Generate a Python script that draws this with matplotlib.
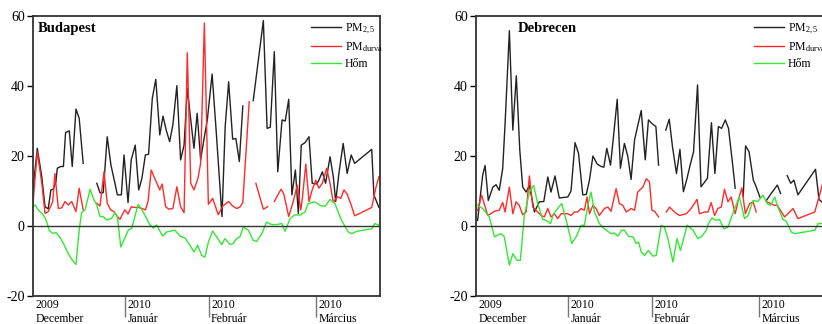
import numpy as np
import matplotlib
matplotlib.use('Agg')
import matplotlib.pyplot as plt
import matplotlib.transforms as mtransforms

plt.rcParams['font.family'] = 'Liberation Serif'
plt.rcParams['mathtext.fontset'] = 'custom'
plt.rcParams['mathtext.rm'] = 'Liberation Serif'
plt.rcParams['mathtext.it'] = 'Liberation Serif:italic'
plt.rcParams['axes.unicode_minus'] = False

# time axis in days from the start of December 2009
month_pos = [0, 34.5, 65.8, 106.2]
month_labels = ['2009\nDecember', '2010\nJanuár', '2010\nFebruár', '2010\nMárcius']
series_labels = [r'PM$_{\mathrm{2,5}}$', r'PM$_{\mathrm{durva}}$', 'Hőm']

# (day, value) pairs, None = missing data
bp_pm25 = [(0, 10.3), (1.6, 22.2), (3.3, 14), (4.5, 5.5), (5.7, 4.9), (6.7, 10.3), (7.6, 10.5),
           (8.6, 12.7), (9.1, 16.5), (10.4, 17), (11.4, 17), (12.2, 26.7), (13.6, 27.2), (14.7, 17),
           (16.1, 33.4), (17.3, 30.8), (18.8, 17.9), None,
           (23.9, 12.2), (25.1, 9.5), (26.3, 9.5), (27.8, 25.5), (29.2, 17.4), (30.7, 12.2),
           (31.6, 8.9), (33.1, 8.9), (34.1, 20.3), (35.6, 6.7), (36.8, 18.9), (38.3, 23.1),
           (39.6, 10.3), (40.8, 13.6), (42.1, 20.3), (43.3, 20.5), (44.7, 36.5), (46.0, 41.9),
           (47.5, 26), (48.7, 31.4), (49.9, 27.4), (51.2, 24.1), (52.4, 28.9), (53.9, 40.1),
           (55.3, 18.9), (56.6, 23.1), (57.8, 39.3), (59.1, 30.3), (60.3, 22.2), (61.5, 32.2),
           (62.8, 18.9), (64.1, 25), (65.3, 30.3), (67.1, 43.4), (68.6, 27.4), (70.8, 2.7),
           (72.0, 28.4), (73.3, 41.2), (74.8, 24.8), (76.0, 25), (77.3, 18.4), (78.6, 34.3), None,
           (82.5, 35.8), (86.3, 58.7), (87.7, 27.9), (88.9, 28.2), (90.4, 49.8), (91.7, 15.5),
           (93.3, 30.3), (94.5, 30), (95.8, 36.2), (97.0, 8.9), (98.3, 16), (99.4, 3.6),
           (100.5, 23.1), (101.9, 23.8), (103.4, 25.5), (104.6, 12.2), (106.3, 12), (107.1, 13.1),
           (108.4, 15.5), (109.6, 12.2), (111.3, 19.8), (112.5, 14.1), (113.4, 7), (114.6, 15),
           (116.2, 23.6), (117.7, 15), (119.2, 20.3), (120.5, 17.9), (126.9, 21.9), (127.7, 8.9),
           (129.6, 5.3)]

bp_pmc = [(0, 6.5), (1.6, 21.2), (3.3, 12.2), (4.5, 3.6), (5.7, 4.1), (7.4, 7), (8.2, 15),
          (9.5, 5), (10.8, 5.2), (12.0, 7), (13.2, 6), (14.5, 7), (16.1, 4.1), (17.3, 10.8),
          (18.8, 4.6), None,
          (23.9, 6.5), (25.1, 5.7), (26.6, 15.5), (27.8, 6.5), (29.1, 4.6), (30.3, 4.1),
          (31.6, 2.7), (32.6, 1.9), (33.1, 2.7), (34.4, 4.6), (35.6, 3.4), (36.8, 5.5),
          (38.1, 5.3), (39.6, 5.3), (40.8, 5), (42.1, 4.6), (43.1, 7), (44.3, 16), (45.6, 13.6),
          (47.5, 10.3), (48.4, 12), (49.7, 5.5), (50.9, 4.8), (52.4, 5), (53.9, 11.2), (55.3, 5.5),
          (56.6, 3.8), (57.8, 49.5), (59.1, 12.2), (60.3, 10.3), (61.8, 13.6), (62.8, 17.9),
          (64.2, 58), (65.7, 6.2), (67.3, 7.9), (69.4, 3.2), (71.1, 5.7), (73.3, 7), (74.8, 5.7),
          (76.3, 5), (77.5, 5.4), (78.6, 6.7), (81.0, 35.5), None,
          (83.5, 12.2), (86.3, 4.8), (87.9, 5.5), None,
          (90.4, 7), (92.9, 10.5), (93.9, 9.3), (95.8, 2.7), (97.3, 6.5), (97.8, 7.9), (99.0, 11.7),
          (100.3, 4.6), (100.9, 7.8), (102.2, 17.7), (103.4, 7), (104.6, 10.3), (105.9, 13.1),
          (107.1, 10.8), (108.4, 12.2), (110.0, 16.5), (111.3, 12.2), (112.5, 6.7), (114.0, 8.4),
          (115.3, 7.9), (116.5, 10.3), (117.7, 9.1), (119.2, 6), (120.5, 2.9), (126.9, 5.3),
          (128.4, 10.8), (129.6, 14.1)]

bp_hom = [(0, 5.5), (0.8, 6), (2.0, 4.6), (3.9, 3.1), (4.9, 1.7), (6.1, -1.3), (7.4, -2.1),
          (8.6, -1.9), (9.9, -3), (11.4, -5), (12.8, -7.3), (14.5, -9.5), (16.1, -11),
          (17.3, -1.1), (18.2, 3.8), (19.5, 4.6), (21.4, 10.5), (22.9, 7.4), (23.9, 6),
          (25.1, 2.7), (26.3, 2.7), (27.6, 1.7), (29.5, 2.2), (30.7, 3.8), (31.6, 2.7),
          (32.9, -6), (35.7, -1.2), (37.0, -0.6), (39.4, 6.2), (41.3, 4), (43.8, 0.3),
          (45.1, -0.6), (46.3, 0.3), (48.6, -2.9), (50.1, -1.7), (53.2, -1.2), (55.1, -2.9),
          (56.9, -3.4), (58.8, -5.5), (60.3, -7.4), (61.7, -5.5), (63.2, -8.4), (64.4, -8.9),
          (65.7, -4.6), (67.3, -1.4), (68.8, -3.1), (70.7, -5.3), (71.9, -3.6), (73.8, -5.3),
          (75.0, -5), (76.3, -3.6), (77.5, -3.1), (78.8, -0.3), (80.7, -1.2), (82.5, -4.1),
          (83.8, -4.4), (85.7, -2.2), (87.5, 1.1), (89.4, 0.4), (91.3, 0.4), (93.2, 0.7),
          (94.4, -1.5), (96.3, 2.1), (98.1, 3.2), (100.0, 3.1), (101.9, 4), (103.1, 6.4),
          (105.6, 6.9), (107.5, 5.9), (109.4, 5.6), (111.3, 7.6), (113.1, 6.4), (115.6, 1.6),
          (118.1, -1.7), (119.4, -2.2), (121.3, -1.5), (126.9, -0.8), (128.1, 0.7), (129.7, 0.2)]

db_pm25 = [(0.6, 1.6), (2.5, 14.5), (3.4, 17.3), (4.6, 7.3), (6.3, 11.1), (7.5, 11.8), (8.7, 10.2),
           (10.0, 16.4), (10.9, 29.3), (12.5, 55.8), (13.8, 27.4), (15.1, 42.9), (16.4, 21.7),
           (17.5, 11.1), (18.8, 9.7), (20.0, 11.6), (21.9, 4.0), (23.7, 6.9), (25.4, 7), (26.9, 14),
           (28.1, 9.7), (29.6, 14.3), (31.2, 8), (34.4, 8.3), (35.6, 10), (37.1, 23.8), (38.4, 20.8),
           (40.0, 8.9), (41.3, 9), (42.5, 13.1), (43.8, 20), (45.4, 17.7), (46.9, 17), (47.9, 16.8),
           (49.0, 22.2), (50.4, 17.4), (51.5, 25.5), (52.9, 36.2), (54.1, 16.5), (55.6, 23.6),
           (56.9, 19.8), (58.1, 13.3), (59.4, 24.6), (61.9, 33), (63.4, 18.9), (64.6, 30.3),
           (65.9, 29.3), (67.4, 28.4), (68.4, 17.4), None,
           (71.1, 27.4), (72.4, 30.5), (73.6, 22.7), (75.1, 15), (76.4, 21.9), (77.7, 9.8),
           (78.9, 13.1), (80.1, 17), (81.5, 21.2), (83.0, 40.3), (84.3, 11.2), (85.5, 12.4),
           (86.7, 13.6), (88.2, 29.5), (89.5, 15), (90.8, 28.4), (92.0, 27.9), (93.4, 30.3),
           (94.6, 27.9), (96.1, 17.9), (97.1, 10.8), None,
           (100.1, 8.4), (101.0, 22.9), (102.3, 21.2), (103.9, 13.1), (104.7, 11.7), (106.4, 8.2), None,
           (108.9, 7.4), (110.4, 9.1), (112.9, 11.7), (114.1, 9.3), None,
           (116.6, 14.4), (117.9, 12.2), (119.1, 13.1), (120.6, 8.9), (127.2, 16.2), (128.5, 7.6),
           (129.8, 6.7)]

db_pmc = [(0.6, 4.5), (2.1, 8.8), (4.4, 3), (6.9, 4.2), (8.7, 4.5), (10.0, 6.7), (10.9, 4),
          (12.5, 11.1), (13.8, 3.5), (15.0, 6.9), (16.2, 5.9), (17.5, 3.2), (18.8, 4), (20.0, 14.3),
          (21.3, 5.4), (23.1, 4), (24.4, 3), (25.6, 2.6), (26.9, 5), (28.1, 2.6), (29.4, 3.5),
          (30.6, 2.1), (31.9, 3.5), (34.4, 3.5), (35.6, 3), (36.9, 4), (38.1, 4), (39.4, 5),
          (40.6, 4.5), (41.6, 8.3), (42.5, 3.5), (43.8, 5.9), (45.0, 5), (46.2, 3), (48.1, 5),
          (49.4, 5.4), (50.6, 4.2), (52.5, 10.7), (53.7, 6.4), (55.0, 5.9), (56.3, 4), (58.1, 5),
          (59.4, 4.5), (60.6, 9.7), (62.5, 11.1), (63.8, 13.5), (65.0, 12.6), (65.9, 4.5),
          (66.9, 4.2), (68.4, 2.6), None,
          (71.3, 4), (72.5, 5.4), (74.4, 4), (76.2, 3), (78.8, 3.5), (80.6, 5), (82.8, 7.6),
          (83.7, 3.5), (85.6, 4), (86.9, 4), (88.1, 6.7), (89.4, 3), (90.6, 5), (91.9, 5.4),
          (93.1, 10.5), (94.4, 6.9), (95.6, 8.3), (97.1, 3.5), (98.4, 7.8), (99.6, 10.9),
          (100.9, 3.5), (102.5, 6.4), (103.8, 6.9), (105.0, 4), None,
          (108.8, 7), (110.4, 6.4), (111.9, 5.9), (112.9, 5.9), (115.6, 2.6), (117.5, 4),
          (118.8, 5), (120.6, 2.1), (126.9, 4), (128.7, 8.8), (129.8, 12)]

db_hom = [(0.6, 5.9), (2.5, 5), (5.0, 2.6), (6.9, -3.1), (8.4, -2.5), (9.4, -2.2), (10.6, -3.1),
          (12.5, -11.2), (13.8, -7.9), (15.4, -9.8), (16.6, -9.8), (18.1, 3), (20.0, 9.7),
          (21.6, 11.6), (23.1, 6.4), (25.0, 1.9), (26.3, 1.6), (27.9, 0.7), (29.1, 3.5), (30.6, 5),
          (32.1, 6.4), (33.8, 1.6), (35.9, -5), (37.5, -3.1), (39.4, 0.2), (40.6, 0.2), (41.9, 5.9),
          (43.1, 9.7), (44.4, 4), (46.2, 0.7), (48.1, -0.8), (50.6, -2.2), (51.9, -2), (53.1, -2.9),
          (54.6, -1.2), (55.6, -1.2), (57.1, -2.9), (58.8, -3.1), (60.0, -5), (60.9, -4.6),
          (61.9, -7.4), (63.1, -8.4), (64.6, -7), (66.3, -8.6), (67.5, -8.4), (69.4, 0.2),
          (70.6, -0.3), (71.9, -3.6), (73.8, -10.3), (75.3, -3.6), (76.6, -7), (79.1, 0.2),
          (81.3, -1.2), (83.1, -3.6), (84.4, -3.1), (86.3, -1.2), (87.1, 0.7), (88.4, 2.3),
          (90.0, 1.6), (91.2, 1.9), (92.9, -0.8), (94.4, -0.3), (96.9, 5), (98.7, 8.3),
          (100.6, 2.1), (101.9, 3), (103.8, 7.3), (105.6, 7), (107.5, 8.8), (109.1, 6.4),
          (110.4, 5.9), (111.9, 8.3), (113.1, 5.4), (115.0, 1.9), (116.3, 1.3), (118.1, -1.7),
          (119.4, -2.2), (126.9, -1.2), (128.2, 0.7), (129.8, 0.7)]


def unpack(pairs):
    t = [np.nan if p is None else p[0] for p in pairs]
    v = [np.nan if p is None else p[1] for p in pairs]
    return np.array(t), np.array(v)


def draw_panel(ax, name, name_x, pm25, pmc, hom):
    for data, color in zip([pm25, pmc, hom], ['#222222', '#ff2a2a', '#33e833']):
        t, v = unpack(data)
        ax.plot(t, v, color=color, lw=1.0)
    ax.axhline(0, color='#333333', lw=1.0)

    ax.set_xlim(0, 130)
    ax.set_ylim(-20, 60)
    ax.set_yticks([-20, 0, 20, 40, 60])
    ax.tick_params(axis='y', direction='out', length=4, width=1, labelsize=10, pad=2)
    ax.set_xticks(month_pos[1:])
    ax.set_xticklabels([])
    ax.tick_params(axis='x', direction='out', length=15, width=1, color='#777777')
    for sp in ax.spines.values():
        sp.set_linewidth(1.3)
        sp.set_color('#333333')

    trans = mtransforms.blended_transform_factory(ax.transData, ax.transAxes)
    for pos, lab in zip(month_pos, month_labels):
        ax.text(pos + 0.9, -0.01, lab, transform=trans, ha='left', va='top',
                fontsize=8.5, linespacing=1.25)

    ax.text(name_x, 0.955, name, transform=ax.transAxes, fontsize=10.5,
            fontweight='bold', va='center', ha='left')
    ax.legend(series_labels, loc='upper left', bbox_to_anchor=(0.80, 0.98),
              frameon=False, fontsize=8.5, handlelength=2.6, handletextpad=0.3,
              borderpad=0, borderaxespad=0, labelspacing=0.35)


fig = plt.figure(figsize=(8.22, 3.24), dpi=100)
ax1 = fig.add_axes([33 / 822, 28 / 324, 347 / 822, 280 / 324])
ax2 = fig.add_axes([476 / 822, 28 / 324, 347 / 822, 280 / 324])

draw_panel(ax1, 'Budapest', 0.015, bp_pm25, bp_pmc, bp_hom)
draw_panel(ax2, 'Debrecen', 0.12, db_pm25, db_pmc, db_hom)

fig.savefig('out.png', dpi=100)
